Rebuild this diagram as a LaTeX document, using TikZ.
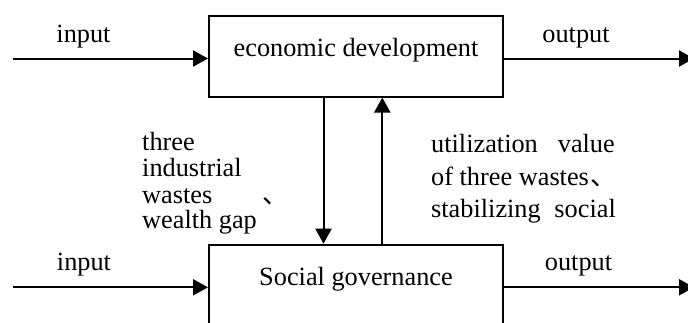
\documentclass[tikz,border=0pt]{standalone}
\usepackage{fontspec}
\setmainfont{Liberation Serif}
\newfontfamily\cjk{Noto Sans CJK SC}
\usetikzlibrary{arrows.meta}
\begin{document}
\begin{tikzpicture}[x=1pt,y=-1pt,
  box/.style={draw,line width=2pt,minimum width=294pt,minimum height=81pt,inner sep=0pt},
  arr/.style={line width=2pt,-{Triangle[length=15pt,width=16pt]}},
  txt/.style={inner sep=0pt,font=\fontsize{26.3}{26}\selectfont},
  lw/.style={txt,anchor=base west},
  le/.style={txt,anchor=base east},
  lc/.style={txt,anchor=base}]
\useasboundingbox (0,0) rectangle (688,322);
\clip (0,0) rectangle (688,322);
\node[box] (eco) at (356,56) {};
\node[box] (soc) at (356,285.2) {};
% labels in boxes
\node[lc] (ecot) at (356,56.7) {economic development};
\node[lc] (soct) at (356,285) {Social governance};
% input/output
\coordinate (in1) at (13,58.5);
\coordinate (out1) at (694,58.5);
\coordinate (in2) at (13,287.3);
\coordinate (out2) at (694,287.3);
\draw[arr] (in1) -- (in1 -| eco.west);
\draw[arr] (out1 -| eco.east) -- (out1);
\draw[arr] (in2) -- (in2 -| soc.west);
\draw[arr] (out2 -| soc.east) -- (out2);
\node[lc] (inl1) at (83.5,42) {input};
\node[lc] (outl1) at (576,42) {output};
\node[lc] (inl2) at (84,270) {input};
\node[lc] (outl2) at (578.5,270) {output};
% vertical arrows
\coordinate (dx) at (323.5,0);
\coordinate (ux) at (382.3,0);
\draw[arr] (eco.south -| dx) -- (soc.north -| dx);
\draw[arr] (soc.north -| ux) -- (eco.south -| ux);
% left text
\node[lw] (l1) at (142,150) {three};
\node[lw] (l2) at (142,176) {industrial};
\node[lw] (l3) at (142,203) {wastes};
\node[txt,anchor=base west] (l3c) at (262,203) {\cjk 、};
\node[lw] (l4) at (142,228) {wealth gap};
% right text
\node[lw] (r1a) at (431,152.7) {utilization};
\node[le] (r1b) at (615,152.7) {value};
\node[lw] (r2) at (431,185) {of three wastes\hspace{2pt}{\cjk 、}};
\node[lw] (r3a) at (431,217) {stabilizing};
\node[le] (r3b) at (616,217) {social};
\end{tikzpicture}
\end{document}
